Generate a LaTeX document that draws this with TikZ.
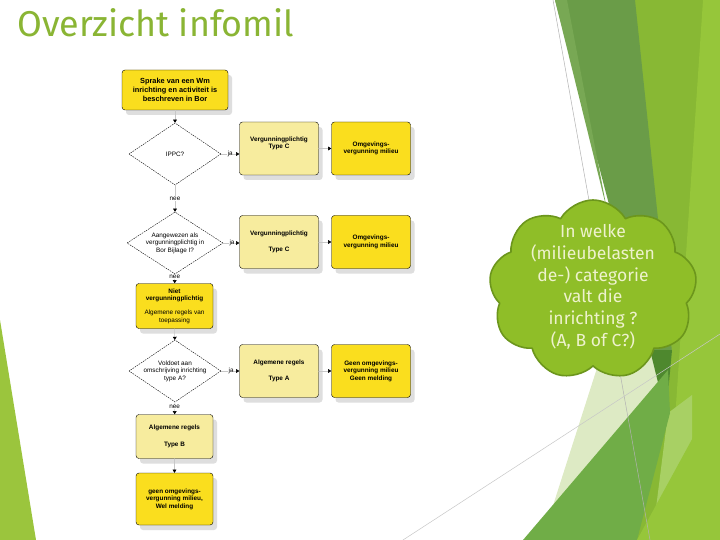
\documentclass[tikz,border=0pt]{standalone}
\usepackage{fontspec}
\usepackage{xcolor}
\usepackage{tikz}
\usetikzlibrary{arrows.meta,calc,shapes.geometric,shapes.symbols,shadows}
\newfontfamily\slidefont{Fira Sans}
\newfontfamily\chartfont{Liberation Sans}
\definecolor{ColTitle}{RGB}{138,181,52}
\definecolor{ColYellow}{RGB}{250,222,30}
\definecolor{ColPale}{RGB}{247,236,158}
\definecolor{ColCloud}{RGB}{143,190,40}
\definecolor{ColCloudEdge}{RGB}{108,150,28}
\definecolor{ColCloudText}{RGB}{238,242,205}
\definecolor{ColLeaf}{RGB}{155,197,61}
\definecolor{ColBand}{RGB}{106,156,72}
\definecolor{ColSliver}{RGB}{120,168,84}
\definecolor{ColLime}{RGB}{136,184,52}
\definecolor{ColBright}{RGB}{150,198,58}
\definecolor{ColMid}{RGB}{112,173,71}
\definecolor{ColPaleGreen}{RGB}{221,234,196}
\definecolor{ColStrip}{RGB}{168,208,100}
\definecolor{ColDark}{RGB}{78,136,46}

\begin{document}
\begin{tikzpicture}[
  x=1bp, y=-1bp,
  >={Triangle[length=3.2bp,width=3.8bp,color=black]},
  line cap=round,
  line join=round,
  every node/.style={font=\chartfont\fontsize{6.4}{7.6}\selectfont},
  box/.style={draw=black, line width=0.4pt, rounded corners=3bp, align=center,
    minimum width=79bp, minimum height=53bp, inner sep=1bp,
    drop shadow={shadow xshift=4bp, shadow yshift=-5bp, fill=black!13, opacity=1}},
  yelbox/.style={box, fill=ColYellow, font=\chartfont\bfseries\fontsize{6.4}{7.6}\selectfont},
  palebox/.style={box, fill=ColPale, font=\chartfont\bfseries\fontsize{6.4}{7.6}\selectfont},
  question/.style={diamond, draw=black, line width=0.4pt, dash pattern=on 1.4bp off 1.1bp,
    fill=white, inner sep=0pt, minimum width=92bp, minimum height=62bp},
  flow/.style={->, draw=black!22, line width=0.5pt},
  answer/.style={fill=white, inner sep=0.6bp}
]
  % slide background
  \fill[white] (0,0) rectangle (720,540);
  \useasboundingbox (0,0) rectangle (720,540);
  \fill[ColLeaf] (0,320) -- (36,540) -- (0,540) -- cycle;
  \fill[ColLime] (630,0) -- (720,0) -- (720,540) -- (600,540) -- (660,400) -- cycle;
  \fill[ColBright] (703,0) -- (720,0) -- (720,540) -- (667,540) -- cycle;
  \fill[ColBand] (555,0) -- (635,0) -- (672,352) -- (648,352) -- cycle;
  \fill[ColSliver] (555,0) -- (567,0) -- (607,210) -- cycle;
  \fill[ColPaleGreen] (606,340) -- (650,340) -- (666,415) -- (560,540) -- (542,540) -- cycle;
  \fill[ColDark] (650,350) -- (672,350) -- (666,415) -- cycle;
  \fill[ColStrip] (668,413) -- (692,395) -- (692,505) -- (652,540) -- cycle;
  \fill[ColMid] (523,540) -- (668,370) -- (670,413) -- (637,540) -- cycle;
  \fill[ColBright] (637,540) -- (720,388) -- (720,540) -- cycle;
  \draw[black!30, line width=0.5bp] (553,0) -- (650,540);
  \draw[black!22, line width=0.5bp] (403,540) -- (720,334);

  % title
  \node[anchor=base west, inner sep=0pt, text=ColTitle,
    font=\slidefont\fontsize{36}{40}\selectfont] (title) at (17,37) {Overzicht infomil};

  % question cloud
  \node[cloud, cloud puffs=9, cloud puff arc=120, aspect=1.15, draw=ColCloudEdge,
    line width=1.6bp, fill=ColCloud, minimum width=208bp, minimum height=180bp,
    inner sep=0pt] (cloud) at (593,290) {};
  \node[align=center, text=ColCloudText, inner sep=0pt,
    font=\slidefont\fontsize{17.6}{21.8}\selectfont] (ask) at (593,287)
    {In welke\\(milieubelasten\\de-) categorie\\valt die\\inrichting ?\\(A, B of C?)};

  % flowchart
  \node[yelbox, minimum width=106bp, minimum height=40bp,
    font=\chartfont\bfseries\fontsize{7.4}{9}\selectfont] (start) at (175,90)
    {Sprake van een Wm\\inrichting en activiteit is\\beschreven in Bor};
  \node[question, label={center:IPPC?}] (ippc) at (175,154) {};
  \node[palebox] (vc1) at (279,148.5) {Vergunningplichtig\\Type C\\[4bp]};
  \node[yelbox] (om1) at (371,148.5) {Omgevings-\\vergunning milieu};

  \node[question, minimum width=96bp, label={[align=center]center:Aangewezen als\\vergunningplichtig in\\Bor Bijlage I?}] (bijlage) at (175,243) {};
  \node[palebox] (vc2) at (279,242) {Vergunningplichtig\\[9bp]Type C};
  \node[yelbox] (om2) at (371,242) {Omgevings-\\vergunning milieu};
  \node[yelbox, minimum width=77bp, minimum height=45bp] (niet) at (174.5,306)
    {Niet\\vergunningplichtig\\[6bp]\mdseries Algemene regels van\\\mdseries toepassing};

  \node[question, label={[align=center]center:Voldoet aan\\omschrijving inrichting\\type A?}] (typea) at (175,371) {};
  \node[palebox] (alga) at (279,371) {Algemene regels\\[9bp]Type A};
  \node[yelbox] (geen) at (371,371) {Geen omgevings-\\vergunning milieu\\Geen melding};
  \node[palebox, minimum width=77bp, minimum height=44bp] (algb) at (174.5,436.5) {Algemene regels\\[9bp]Type B};
  \node[yelbox, minimum width=77bp, minimum height=52bp] (wel) at (174.5,499)
    {geen omgevings-\\vergunning milieu,\\Wel melding};

  % connectors
  \draw[flow] (start) -- (ippc);
  \draw[flow] (ippc.east) -- (ippc.east -| vc1.west) node[answer, pos=0.5] {ja};
  \draw[flow] (vc1.east |- om1.west) -- (om1.west);
  \draw[flow] (ippc) -- (bijlage) node[answer, pos=0.5] {nee};
  \draw[flow] (bijlage.east) -- (bijlage.east -| vc2.west) node[answer, pos=0.55] {ja};
  \draw[flow] (vc2.east |- om2.west) -- (om2.west);
  \draw[flow] (bijlage) -- (niet) node[answer, pos=0.3] {nee};
  \draw[flow] (niet) -- (typea);
  \draw[flow] (typea.east) -- (typea.east -| alga.west) node[answer, pos=0.55] {ja};
  \draw[flow] (alga.east |- geen.west) -- (geen.west);
  \draw[flow] (typea) -- (algb) node[answer, pos=0.4] {nee};
  \draw[flow] (algb) -- (wel);
\end{tikzpicture}
\end{document}
